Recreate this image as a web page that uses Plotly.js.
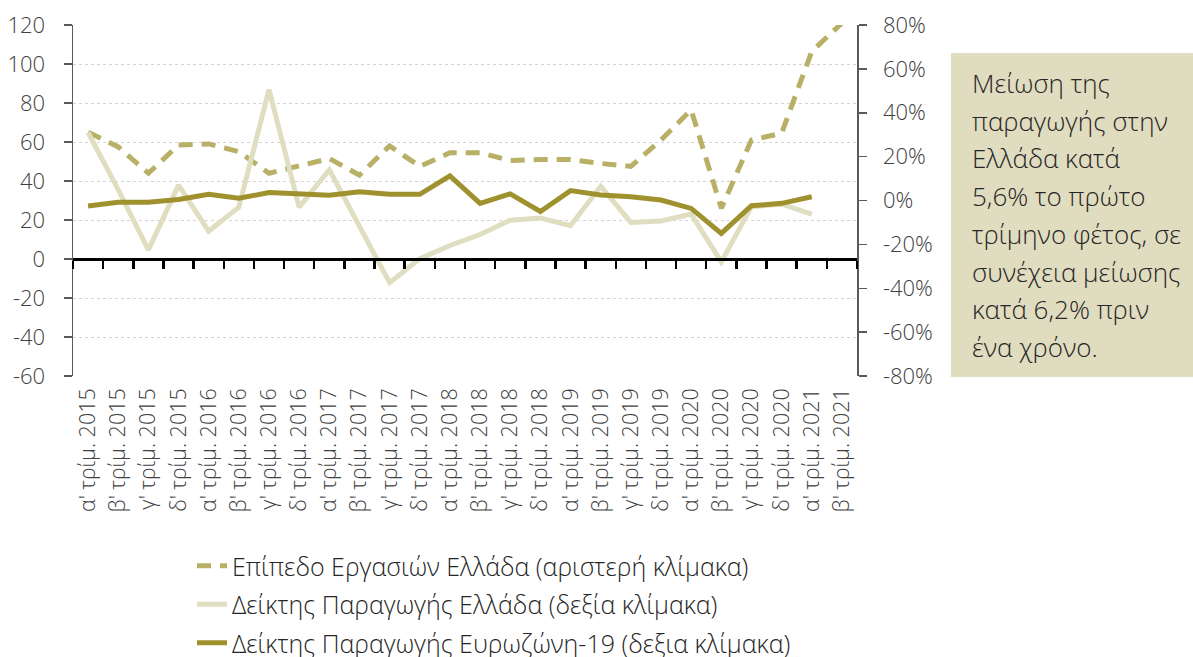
<!DOCTYPE html>
<html>
<head>
<meta charset="utf-8">
<script src="https://cdn.plot.ly/plotly-3.0.1.min.js"></script>
<style>
  html, body { margin: 0; padding: 0; background: #ffffff; }
  #chart { width: 1193px; height: 657px; }
</style>
</head>
<body>
<div id="chart"></div>
<script>
// ---------- DATA ----------
const categories = [
  "α' τρίμ. 2015", "β' τρίμ. 2015", "γ' τρίμ. 2015", "δ' τρίμ. 2015",
  "α' τρίμ. 2016", "β' τρίμ. 2016", "γ' τρίμ. 2016", "δ' τρίμ. 2016",
  "α' τρίμ. 2017", "β' τρίμ. 2017", "γ' τρίμ. 2017", "δ' τρίμ. 2017",
  "α' τρίμ. 2018", "β' τρίμ. 2018", "γ' τρίμ. 2018", "δ' τρίμ. 2018",
  "α' τρίμ. 2019", "β' τρίμ. 2019", "γ' τρίμ. 2019", "δ' τρίμ. 2019",
  "α' τρίμ. 2020", "β' τρίμ. 2020", "γ' τρίμ. 2020", "δ' τρίμ. 2020",
  "α' τρίμ. 2021", "β' τρίμ. 2021"
];

// Επίπεδο Εργασιών Ελλάδα (left scale)
const businessLevelGreece = [
  65, 57.5, 44, 58.5, 59, 55, 44, 47.5, 51.5, 43,
  58, 47.5, 54.5, 54.5, 50.5, 51, 51, 49, 47.5, 61,
  76.5, 26, 61, 64.5, 106.5, 121
];

// Δείκτης Παραγωγής Ελλάδα (right scale, %)
const productionGreece = [
  31, 5, -22.5, 7, -14, -3, 50.5, -3, 14, -12,
  -37.5, -26.5, -20.5, -15.5, -9, -8, -11.5, 6.5, -10, -9.3,
  -6.2, -28, -2.8, -1.7, -6.2, null
];

// Δείκτης Παραγωγής Ευρωζώνη-19 (right scale, %)
const productionEurozone = [
  -2.5, -0.8, -0.8, 0.5, 2.8, 1.0, 3.6, 2.8, 2.4, 4.0,
  2.8, 2.8, 11.2, -1.3, 3.0, -5.0, 4.5, 2.5, 1.7, 0.2,
  -3.6, -15.0, -2.4, -1.3, 1.7, null
];

const seriesNames = [
  "Επίπεδο Εργασιών Ελλάδα (αριστερή κλίμακα)",
  "Δείκτης Παραγωγής Ελλάδα (δεξία κλίμακα)",
  "Δείκτης Παραγωγής Ευρωζώνη-19 (δεξια κλίμακα)"
];

const leftTickVals = [-60, -40, -20, 0, 20, 40, 60, 80, 100, 120];
const leftTickText = ["-60", "-40", "-20", "0", "20", "40", "60", "80", "100", "120"];
const rightTickVals = [-80, -60, -40, -20, 0, 20, 40, 60, 80];
const rightTickText = ["-80%", "-60%", "-40%", "-20%", "0%", "20%", "40%", "60%", "80%"];

const noteLines = [
  "Μείωση της",
  "παραγωγής στην",
  "Ελλάδα κατά",
  "5,6% το πρώτο",
  "τρίμηνο φέτος, σε",
  "συνέχεια μείωσης",
  "κατά 6,2% πριν",
  "ένα χρόνο."
];

// ---------- STYLE ----------
const FONT = "'Open Sans', 'Noto Sans', sans-serif";
const TXT = "#404040";
const C_DASH = "#b9b068";
const C_LIGHT = "#e0dec0";
const C_DARK = "#a0912f";
const BOX = "#e0dcbf";

// plot area in pixels
const L = 73, R = 857, T = 25, B = 376;
const W = 1193, H = 657;
const px2x = (x) => (x - L) / (R - L);
const px2y = (y) => (B - y) / (B - T);

const traces = [
  {
    x: categories, y: businessLevelGreece, name: seriesNames[0],
    type: "scatter", mode: "lines", xaxis: "x", yaxis: "y",
    line: { color: C_DASH, width: 5, dash: "14px,9px" },
    legendgroup: "a", hoverinfo: "x+y"
  },
  {
    x: categories, y: productionGreece, name: seriesNames[1],
    type: "scatter", mode: "lines", xaxis: "x", yaxis: "y2",
    line: { color: C_LIGHT, width: 5 },
    legendgroup: "b", hoverinfo: "x+y"
  },
  {
    x: categories, y: productionEurozone, name: seriesNames[2],
    type: "scatter", mode: "lines", xaxis: "x", yaxis: "y2",
    line: { color: C_DARK, width: 5 },
    legendgroup: "c", hoverinfo: "x+y"
  },
  {
    // carrier for the zero-axis with category boundary ticks
    x: categories, y: categories.map(() => null),
    type: "scatter", mode: "lines", xaxis: "x2", yaxis: "y",
    showlegend: false, hoverinfo: "skip"
  }
];

const annotations = noteLines.map((t, i) => ({
  text: t, xref: "paper", yref: "paper",
  x: px2x(970), y: px2y(83 + i * 37.7),
  xanchor: "left", yanchor: "middle", showarrow: false,
  font: { family: FONT, size: 26, color: "#262626", weight: 300 }
}));

const layout = {
  width: W, height: H,
  margin: { l: L, r: W - R, t: T, b: H - B, autoexpand: false },
  paper_bgcolor: "#ffffff", plot_bgcolor: "#ffffff",
  font: { family: FONT, color: TXT },
  showlegend: true,
  legend: {
    xref: "container", yref: "container",
    x: 192 / W, y: 1 - 543 / H, xanchor: "left", yanchor: "top",
    font: { family: FONT, size: 25, color: "#262626", weight: 300 },
    traceorder: "grouped", tracegroupgap: 3,
    bgcolor: "rgba(0,0,0,0)"
  },
  xaxis: {
    type: "category", range: [-0.5, categories.length - 0.5],
    tickmode: "array", tickvals: categories, ticktext: categories,
    tickangle: -90, ticks: "", showgrid: false, showline: false, zeroline: false,
    tickfont: { family: FONT, size: 21.5, color: TXT, weight: 300 },
    ticklabelstandoff: 7, automargin: false, fixedrange: true
  },
  xaxis2: {
    type: "category", overlaying: "x", anchor: "free", position: 1 / 3,
    range: [-0.5, categories.length - 0.5],
    showticklabels: false, showgrid: false, zeroline: false,
    showline: true, linecolor: "#000000", linewidth: 2.5,
    ticks: "outside", tickson: "boundaries", ticklen: 8, tickwidth: 2.5, tickcolor: "#000000",
    automargin: false, fixedrange: true
  },
  yaxis: {
    range: [-60, 120], tickvals: leftTickVals, ticktext: leftTickText,
    showline: true, linecolor: "#595959", linewidth: 1.5,
    ticks: "outside", ticklen: 8, tickwidth: 1.5, tickcolor: "#595959",
    showgrid: true, gridcolor: "#d4d4d4", gridwidth: 1, griddash: "dot",
    zeroline: false,
    tickfont: { family: FONT, size: 22, color: TXT, weight: 300 },
    ticklabelstandoff: 14, automargin: false, fixedrange: true
  },
  yaxis2: {
    overlaying: "y", side: "right", anchor: "x",
    range: [-80, 80], tickvals: rightTickVals, ticktext: rightTickText,
    showline: true, linecolor: "#595959", linewidth: 1.5,
    ticks: "outside", ticklen: 8, tickwidth: 1.5, tickcolor: "#595959",
    showgrid: false, zeroline: false,
    tickfont: { family: FONT, size: 22, color: TXT, weight: 300 },
    ticklabelstandoff: 12, automargin: false, fixedrange: true
  },
  shapes: [
    {
      type: "rect", xref: "paper", yref: "paper", layer: "below",
      x0: px2x(951), x1: px2x(1195), y0: px2y(377), y1: px2y(53),
      fillcolor: BOX, line: { width: 0 }
    }
  ],
  annotations: annotations
};

Plotly.newPlot("chart", traces, layout, { displayModeBar: false, staticPlot: true });
</script>
</body>
</html>
